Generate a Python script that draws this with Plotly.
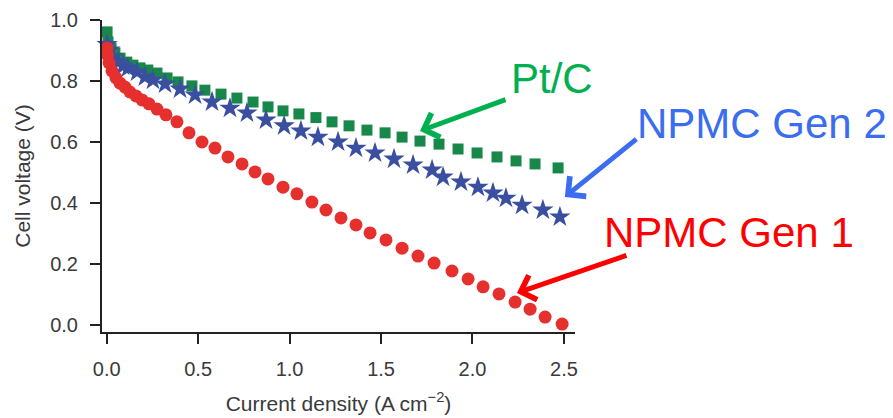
import plotly.graph_objects as go

# ---- data ----
pt_c_x = [0.002, 0.007, 0.024, 0.045, 0.073, 0.110, 0.143, 0.182, 0.225, 0.275, 0.330, 0.390,
          0.466, 0.537, 0.625, 0.712, 0.800, 0.882, 0.964, 1.051, 1.144, 1.232, 1.325, 1.423,
          1.522, 1.615, 1.713, 1.817, 1.921, 2.025, 2.134, 2.238, 2.342, 2.468]
pt_c_y = [0.961, 0.928, 0.908, 0.892, 0.875, 0.862, 0.852, 0.843, 0.836, 0.826, 0.810, 0.797,
          0.784, 0.770, 0.757, 0.744, 0.731, 0.715, 0.702, 0.692, 0.680, 0.666, 0.653, 0.639,
          0.630, 0.616, 0.603, 0.593, 0.577, 0.564, 0.551, 0.538, 0.528, 0.515]

gen2_x = [0.002, 0.018, 0.034, 0.062, 0.089, 0.116, 0.166, 0.209, 0.253, 0.319, 0.401, 0.483,
          0.576, 0.674, 0.767, 0.871, 0.970, 1.062, 1.155, 1.265, 1.363, 1.467, 1.571, 1.675,
          1.779, 1.839, 1.937, 2.030, 2.112, 2.183, 2.271, 2.385, 2.478]
gen2_y = [0.920, 0.902, 0.879, 0.862, 0.849, 0.843, 0.830, 0.813, 0.803, 0.790, 0.774, 0.754,
          0.731, 0.711, 0.695, 0.672, 0.653, 0.636, 0.616, 0.600, 0.580, 0.564, 0.544, 0.525,
          0.508, 0.485, 0.469, 0.452, 0.433, 0.416, 0.393, 0.377, 0.354]

gen1_x = [0.002, 0.004, 0.013, 0.029, 0.051, 0.073, 0.100, 0.127, 0.160, 0.193, 0.231, 0.275,
          0.324, 0.384, 0.450, 0.521, 0.592, 0.663, 0.740, 0.811, 0.882, 0.964, 1.040, 1.122,
          1.199, 1.281, 1.363, 1.440, 1.527, 1.615, 1.702, 1.790, 1.888, 1.976, 2.058, 2.145,
          2.233, 2.315, 2.397, 2.490]
gen1_y = [0.908, 0.885, 0.859, 0.833, 0.810, 0.793, 0.780, 0.764, 0.751, 0.738, 0.725, 0.708,
          0.689, 0.666, 0.630, 0.600, 0.580, 0.551, 0.528, 0.502, 0.479, 0.452, 0.430, 0.403,
          0.377, 0.351, 0.328, 0.302, 0.279, 0.252, 0.226, 0.203, 0.177, 0.151, 0.125, 0.102,
          0.075, 0.052, 0.026, 0.003]

x_ticks = [0.0, 0.5, 1.0, 1.5, 2.0, 2.5]
y_ticks = [0.0, 0.2, 0.4, 0.6, 0.8, 1.0]

labels = ["Pt/C", "NPMC Gen 2", "NPMC Gen 1"]
label_colors = ["#00b050", "#3a6df0", "#ff0000"]
arrow_heads = [(1.713, 0.636), (2.505, 0.420), (2.243, 0.105)]

FONT = "Arial, Liberation Sans, sans-serif"
TXT = "#3a3a3a"

# plot-area geometry (page has an 8px body margin)
PL, PT, PW, PH = 94, 12, 473, 312
W, H = 885, 410

fig = go.Figure()
fig.add_trace(go.Scatter(x=pt_c_x, y=pt_c_y, mode="markers", name="Pt/C", cliponaxis=False,
                         marker=dict(symbol="square", size=11, color="#18884a")))
fig.add_trace(go.Scatter(x=gen2_x, y=gen2_y, mode="markers", name="NPMC Gen 2", cliponaxis=False,
                         marker=dict(symbol="star", size=16, color="#3a4f9f")))
fig.add_trace(go.Scatter(x=gen1_x, y=gen1_y, mode="markers", name="NPMC Gen 1", cliponaxis=False,
                         marker=dict(symbol="circle", size=13, color="#e6302e")))

# arrows
offsets = [(87, -32), (73, -59), (111, -38)]
for (hx, hy), (ax, ay), c in zip(arrow_heads, offsets, label_colors):
    fig.add_annotation(x=hx, y=hy, ax=ax, ay=ay, xref="x", yref="y", showarrow=True,
                       arrowhead=4, arrowsize=1.0, arrowwidth=5, arrowcolor=c, text="", standoff=0)

# text labels, positioned relative to the plot area (reference pixel centres)
text_pos = [(552, 78), (762, 123), (729, 232)]
for t, c, (px, py) in zip(labels, label_colors, text_pos):
    fig.add_annotation(x=(px - 102) / PW, y=(332 - py) / PH, xref="paper", yref="paper",
                       text=t, showarrow=False, font=dict(family=FONT, size=42, color=c),
                       xanchor="center", yanchor="middle")

fig.update_layout(
    width=W, height=H,
    margin=dict(l=PL, r=W - PL - PW, t=PT, b=H - PT - PH, pad=0, autoexpand=False),
    plot_bgcolor="white", paper_bgcolor="white",
    showlegend=False,
    font=dict(family=FONT, size=20, color=TXT),
)
fig.update_xaxes(range=[-0.0257, 2.5605], tickvals=x_ticks, ticktext=[f"{v:.1f}" for v in x_ticks],
                 showline=True, linecolor="#222222", linewidth=2, ticks="outside", ticklen=10,
                 tickwidth=2, tickcolor="#222222", showgrid=False, zeroline=False, automargin=False,
                 tickfont=dict(size=20, color=TXT), ticklabelstandoff=8,
                 title=dict(text="Current density (A cm<sup>\u22122</sup>)", font=dict(size=21, color=TXT),
                            standoff=17))
fig.update_yaxes(range=[-0.023, 1.0], tickvals=y_ticks, ticktext=[f"{v:.1f}" for v in y_ticks],
                 showline=True, linecolor="#222222", linewidth=2, ticks="outside", ticklen=10,
                 tickwidth=2, tickcolor="#222222", showgrid=False, zeroline=False, automargin=False,
                 tickfont=dict(size=20, color=TXT), ticklabelstandoff=8,
                 title=dict(text="Cell voltage (V)", font=dict(size=21, color=TXT), standoff=14))

fig.write_html("out.html")
